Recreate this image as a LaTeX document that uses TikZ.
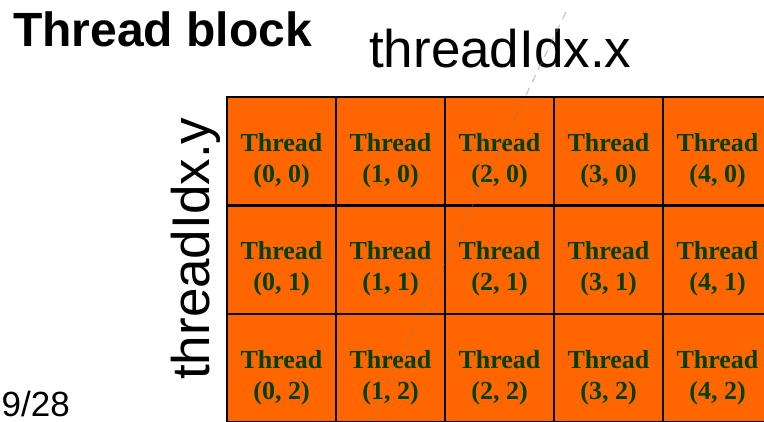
\documentclass[tikz,border=0pt]{standalone}
\usepackage{fontspec}
\setmainfont{Liberation Serif}
\newfontfamily\arialfont{Liberation Sans}
\usetikzlibrary{positioning}

\definecolor{cellorange}{HTML}{FF6600}
\definecolor{celltext}{HTML}{004000}

\tikzset{
	cell/.style = {draw = black, line width = 2.5pt, fill = cellorange, minimum width = 109pt, minimum height = 108.5pt, inner sep = 0pt, label = {[celltext style, yshift = -9pt]center:#1}},
	celltext style/.style = {text = celltext, align = center, inner sep = 0pt, font = \fontsize{26}{31}\selectfont\bfseries},
	plaintext/.style = {inner sep = 0pt, text = black}
}

\begin{document}
\begin{tikzpicture}[x=1pt, y=1pt]
			\useasboundingbox (0, 0) rectangle (764, 421);
			\clip (0, 0) rectangle (764, 421);
			\node[plaintext, anchor = base west, font = \arialfont\bfseries\fontsize{48}{50}\selectfont] (title) at (13, 374) {Thread block};
			\node[plaintext, anchor = base west, font = \arialfont\fontsize{53}{56}\selectfont] (idxx) at (369, 353) {threadIdx.x};
			\node[plaintext, anchor = base west, rotate = 90, font = \arialfont\fontsize{53}{56}\selectfont] (idxy) at (209, 41) {threadIdx.y};
			\node[plaintext, anchor = base east, font = \arialfont\fontsize{35}{38}\selectfont] (page) at (70, 5) {9/28};
			% row 0
			\node[cell = {Thread\\(0, 0)}] (t00) at (281.5, 269.75) {};
			\node[cell = {Thread\\(1, 0)}] (t10) at (390.5, 269.75) {};
			\node[cell = {Thread\\(2, 0)}] (t20) at (499.5, 269.75) {};
			\node[cell = {Thread\\(3, 0)}] (t30) at (608.5, 269.75) {};
			\node[cell = {Thread\\(4, 0)}] (t40) at (717.5, 269.75) {};
			% row 1
			\node[cell = {Thread\\(0, 1)}] (t01) at (281.5, 161.25) {};
			\node[cell = {Thread\\(1, 1)}] (t11) at (390.5, 161.25) {};
			\node[cell = {Thread\\(2, 1)}] (t21) at (499.5, 161.25) {};
			\node[cell = {Thread\\(3, 1)}] (t31) at (608.5, 161.25) {};
			\node[cell = {Thread\\(4, 1)}] (t41) at (717.5, 161.25) {};
			% row 2
			\node[cell = {Thread\\(0, 2)}] (t02) at (281.5, 52.75) {};
			\node[cell = {Thread\\(1, 2)}] (t12) at (390.5, 52.75) {};
			\node[cell = {Thread\\(2, 2)}] (t22) at (499.5, 52.75) {};
			\node[cell = {Thread\\(3, 2)}] (t32) at (608.5, 52.75) {};
			\node[cell = {Thread\\(4, 2)}] (t42) at (717.5, 52.75) {};
			% faint dashed guide
			\coordinate (dtop) at (566, 409);
			\coordinate (dbot) at (369, 0);
			\draw[gray, opacity = 0.45, line width = 1.2pt, dash pattern = on 8pt off 6pt] (dtop)--(dbot);
		\end{tikzpicture}
\end{document}
